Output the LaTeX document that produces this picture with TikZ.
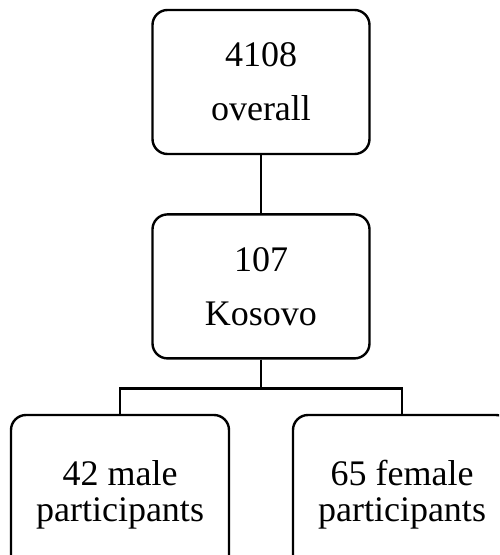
\documentclass[tikz,border=0pt]{standalone}
\usepackage{fontspec}
\setmainfont{Liberation Serif}
\usetikzlibrary{positioning}

\begin{document}
\begin{tikzpicture}[x=1pt, y=1pt, line width=2.4pt,
    box/.style = {draw, rounded corners=15pt, align=center, minimum width=217pt, minimum height=144pt, inner sep=0pt},
    bigtext/.style = {font=\fontsize{36}{54}\selectfont},
    smalltext/.style = {font=\fontsize{36}{36}\selectfont}]
  \useasboundingbox (0,0) rectangle (499,-555);
  \clip (0,0) rectangle (499,-555);
  \node[box, bigtext] (total) at (261,-82) {4108\\overall};
  \node[box, bigtext] (kosovo) [below=58pt of total] {107\\Kosovo};
  \node[box, smalltext, minimum width=218pt, minimum height=160pt] (male) at (120,-495) {42 male\\participants};
  \node[box, smalltext, minimum width=218pt, minimum height=160pt] (female) at (402,-495) {65 female\\participants};

  \draw (total) -- (kosovo);
  \draw (kosovo.south) -- ++(0,-29) -| (male.north);
  \draw (kosovo.south) -- ++(0,-29) -| (female.north);
\end{tikzpicture}
\end{document}
